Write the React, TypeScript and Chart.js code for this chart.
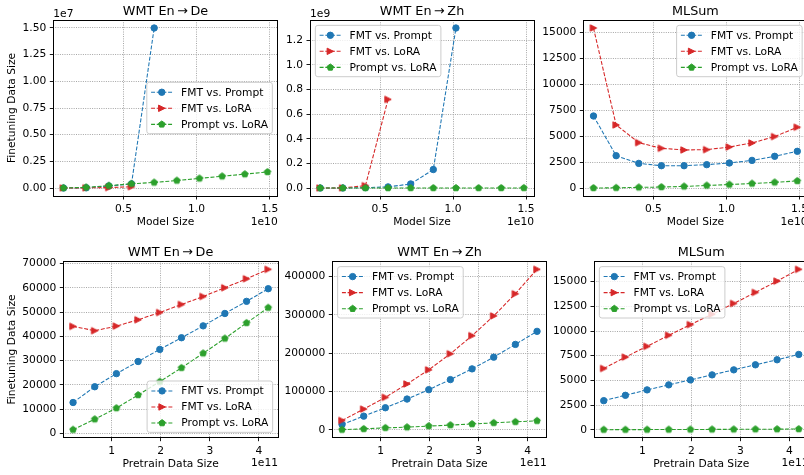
import React, { useEffect, useRef } from "react";
import { Chart, registerables } from "chart.js";

Chart.register(...registerables);

const FONT = "'DejaVu Sans', 'Liberation Sans', sans-serif";
const TICK_PX = 10.7;
const TITLE_PX = 12.8;
const COLORS = ["#1f77b4", "#d62728", "#2ca02c"];
const seriesNames = ["FMT vs. Prompt", "FMT vs. LoRA", "Prompt vs. LoRA"];

// x values
const modelSizes = [0.09e10, 0.245e10, 0.4e10, 0.555e10, 0.71e10, 0.865e10, 1.02e10, 1.175e10, 1.33e10, 1.485e10];
const pretrainSizes = [0.213e11, 0.655e11, 1.097e11, 1.539e11, 1.981e11, 2.423e11, 2.865e11, 3.307e11, 3.749e11, 4.191e11];

// Top row: vs model size
const deModelFmtPrompt = [0, 2e4, 1.9e5, 3.8e5, 1.5e7];
const deModelFmtLora = [5e3, 1.5e4, 4e4, 1.2e5];
const deModelPromptLora = [1e4, 6e4, 2.2e5, 4e5, 5.2e5, 7e5, 9e5, 1.1e6, 1.3e6, 1.5e6];

const zhModelFmtPrompt = [1e5, 4e5, 3e6, 9e6, 3.3e7, 1.5e8, 1.3e9];
const zhModelFmtLora = [2e5, 1e6, 1.9e7, 7.2e8];
const zhModelPromptLora = [1e4, 3e4, 6e4, 1e5, 1.5e5, 2e5, 3e5, 4e5, 5e5, 6e5];

const mlModelFmtPrompt = [6950, 3140, 2400, 2180, 2180, 2280, 2440, 2690, 3080, 3560];
const mlModelFmtLora = [15390, 6090, 4390, 3850, 3690, 3720, 3970, 4360, 4970, 5870];
const mlModelPromptLora = [40, 60, 100, 130, 190, 280, 370, 470, 580, 720];

// Bottom row: vs pretrain data size
const dePreFmtPrompt = [12700, 19200, 24600, 29600, 34600, 39400, 44300, 49400, 54400, 59600];
const dePreFmtLora = [44100, 42300, 44200, 46800, 49800, 53100, 56400, 60000, 63700, 67600];
const dePrePromptLora = [1500, 5800, 10400, 15800, 21300, 27000, 33000, 39100, 45500, 51800];

const zhPreFmtPrompt = [14000, 35900, 57800, 80500, 105000, 131300, 159300, 189900, 223200, 257300];
const zhPreFmtLora = [24500, 54300, 84900, 119900, 156700, 198700, 246000, 297600, 355400, 419300];
const zhPrePromptLora = [500, 2600, 5300, 7000, 10000, 12500, 15300, 18400, 21000, 23700];

const mlPreFmtPrompt = [2950, 3490, 4040, 4550, 5050, 5560, 6070, 6580, 7090, 7630];
const mlPreFmtLora = [6210, 7360, 8450, 9570, 10650, 11700, 12790, 13910, 15060, 16250];
const mlPrePromptLora = [10, 15, 20, 25, 30, 40, 45, 55, 65, 75];

// Tick values
const modelTicks = [0.5e10, 1.0e10, 1.5e10];
const pretrainTicks = [1e11, 2e11, 3e11, 4e11];
const deModelTicks = [0, 0.25e7, 0.5e7, 0.75e7, 1.0e7, 1.25e7, 1.5e7];
const zhModelTicks = [0, 0.2e9, 0.4e9, 0.6e9, 0.8e9, 1.0e9, 1.2e9];
const mlModelTicks = [0, 2500, 5000, 7500, 10000, 12500, 15000];
const dePreTicks = [0, 10000, 20000, 30000, 40000, 50000, 60000, 70000];
const zhPreTicks = [0, 100000, 200000, 300000, 400000];
const mlPreTicks = [0, 2500, 5000, 7500, 10000, 12500, 15000];

type LegendLoc = "center right" | "upper left" | "upper right" | "lower right";
interface PanelDef {
  key: string;
  title: string;
  rect: [number, number, number, number];
  xs: number[];
  series: number[][];
  xTicks: number[];
  xDiv: number;
  xDigits: number;
  xOffset: string;
  yTicks: number[];
  yDiv: number;
  yDigits: number;
  yOffset: string;
  xLabel: string;
  yLabel: string;
  legend: LegendLoc;
}

const TOP = 20, TOP_B = 196;
const BOT = 261.3, BOT_B = 437.7;
const YLABEL_X = 12.3;
const ARROW = "\u2009\u2192\u2009";

const panels: PanelDef[] = [
  {
    key: "a", title: "WMT En" + ARROW + "De", rect: [53.3, TOP, 277.7, TOP_B],
    xs: modelSizes, series: [deModelFmtPrompt, deModelFmtLora, deModelPromptLora],
    xTicks: modelTicks, xDiv: 1e10, xDigits: 1, xOffset: "1e10",
    yTicks: deModelTicks, yDiv: 1e7, yDigits: 2, yOffset: "1e7",
    xLabel: "Model Size", yLabel: "Finetuning Data Size", legend: "center right",
  },
  {
    key: "b", title: "WMT En" + ARROW + "Zh", rect: [310, TOP, 534, TOP_B],
    xs: modelSizes, series: [zhModelFmtPrompt, zhModelFmtLora, zhModelPromptLora],
    xTicks: modelTicks, xDiv: 1e10, xDigits: 1, xOffset: "1e10",
    yTicks: zhModelTicks, yDiv: 1e9, yDigits: 1, yOffset: "1e9",
    xLabel: "Model Size", yLabel: "", legend: "upper left",
  },
  {
    key: "c", title: "MLSum", rect: [583.3, TOP, 807.5, TOP_B],
    xs: modelSizes, series: [mlModelFmtPrompt, mlModelFmtLora, mlModelPromptLora],
    xTicks: modelTicks, xDiv: 1e10, xDigits: 1, xOffset: "1e10",
    yTicks: mlModelTicks, yDiv: 1, yDigits: 0, yOffset: "",
    xLabel: "Model Size", yLabel: "", legend: "upper right",
  },
  {
    key: "d", title: "WMT En" + ARROW + "De", rect: [63.3, BOT, 278, BOT_B],
    xs: pretrainSizes, series: [dePreFmtPrompt, dePreFmtLora, dePrePromptLora],
    xTicks: pretrainTicks, xDiv: 1e11, xDigits: 0, xOffset: "1e11",
    yTicks: dePreTicks, yDiv: 1, yDigits: 0, yOffset: "",
    xLabel: "Pretrain Data Size", yLabel: "Finetuning Data Size", legend: "lower right",
  },
  {
    key: "e", title: "WMT En" + ARROW + "Zh", rect: [332.3, BOT, 546.8, BOT_B],
    xs: pretrainSizes, series: [zhPreFmtPrompt, zhPreFmtLora, zhPrePromptLora],
    xTicks: pretrainTicks, xDiv: 1e11, xDigits: 0, xOffset: "1e11",
    yTicks: zhPreTicks, yDiv: 1, yDigits: 0, yOffset: "",
    xLabel: "Pretrain Data Size", yLabel: "", legend: "upper left",
  },
  {
    key: "f", title: "MLSum", rect: [594, BOT, 808.5, BOT_B],
    xs: pretrainSizes, series: [mlPreFmtPrompt, mlPreFmtLora, mlPrePromptLora],
    xTicks: pretrainTicks, xDiv: 1e11, xDigits: 0, xOffset: "1e11",
    yTicks: mlPreTicks, yDiv: 1, yDigits: 0, yOffset: "",
    xLabel: "Pretrain Data Size", yLabel: "", legend: "upper left",
  },
];

function drawMarker(ctx: CanvasRenderingContext2D, kind: number, x: number, y: number, color: string) {
  const s = 3.2;
  ctx.beginPath();
  if (kind === 0) {
    ctx.arc(x, y, s, 0, Math.PI * 2);
  } else if (kind === 1) {
    ctx.moveTo(x + s, y);
    ctx.lineTo(x - s, y - s);
    ctx.lineTo(x - s, y + s);
    ctx.closePath();
  } else {
    const r = 3.4;
    for (let i = 0; i < 5; i++) {
      const a = -Math.PI / 2 + (i * 2 * Math.PI) / 5;
      const px = x + r * Math.cos(a), py = y + r * Math.sin(a);
      if (i === 0) ctx.moveTo(px, py); else ctx.lineTo(px, py);
    }
    ctx.closePath();
  }
  ctx.setLineDash([]);
  ctx.fillStyle = color;
  ctx.fill();
  ctx.lineWidth = 1;
  ctx.strokeStyle = color;
  ctx.stroke();
}

function markerCanvas(kind: number, color: string) {
  const c = document.createElement("canvas");
  c.width = 12;
  c.height = 12;
  const g = c.getContext("2d")!;
  drawMarker(g, kind, 6, 6, color);
  return c;
}

function padRange(vals: number[]): [number, number] {
  const mn = Math.min(...vals), mx = Math.max(...vals);
  const d = (mx - mn) * 0.05;
  return [mn - d, mx + d];
}

function PanelChart({ p }: { p: PanelDef }) {
  const ref = useRef<HTMLCanvasElement>(null);
  const [axL, axT, axR, axB] = p.rect;
  const cL = Math.floor(axL) - 56;
  const cT = Math.floor(axT) - 22;
  const cR = Math.ceil(axR) + 6;
  const cB = Math.ceil(axB) + 36;
  const w = cR - cL, h = cB - cT;

  useEffect(() => {
    if (!ref.current) return;
    const markers = [null, markerCanvas(1, COLORS[1]), markerCanvas(2, COLORS[2])];
    const [xMin, xMax] = padRange(p.xs);
    const [yMin, yMax] = padRange(p.series.flat());

    const deco = {
      id: "deco",
      afterDatasetsDraw(chart: any) {
        const ctx: CanvasRenderingContext2D = chart.ctx;
        const a = chart.chartArea;
        ctx.save();
        // spines
        ctx.setLineDash([]);
        ctx.strokeStyle = "#000";
        ctx.lineWidth = 1;
        const l = Math.floor(a.left) + 0.5, t = Math.floor(a.top) + 0.5;
        const r = Math.floor(a.right) + 0.5, b = Math.floor(a.bottom) + 0.5;
        ctx.strokeRect(l, t, r - l, b - t);

        // legend
        const fs = TICK_PX;
        ctx.font = `${fs}px ${FONT}`;
        const tw = Math.max(...seriesNames.map((s) => ctx.measureText(s).width));
        const pad = 0.4 * fs, hl = 2 * fs, htp = 0.8 * fs, bap = 0.5 * fs;
        const lw = pad + hl + htp + tw + pad;
        const rowH = 1.5 * fs;
        const lh = 2 * pad + 3 * fs + 2 * 0.5 * fs;
        let lx = 0, ly = 0;
        if (p.legend === "center right") { lx = a.right - bap - lw; ly = (a.top + a.bottom) / 2 - lh / 2; }
        else if (p.legend === "upper left") { lx = a.left + bap; ly = a.top + bap; }
        else if (p.legend === "upper right") { lx = a.right - bap - lw; ly = a.top + bap; }
        else { lx = a.right - bap - lw; ly = a.bottom - bap - lh; }
        const rr = 2.5;
        ctx.beginPath();
        ctx.moveTo(lx + rr, ly);
        ctx.lineTo(lx + lw - rr, ly);
        ctx.quadraticCurveTo(lx + lw, ly, lx + lw, ly + rr);
        ctx.lineTo(lx + lw, ly + lh - rr);
        ctx.quadraticCurveTo(lx + lw, ly + lh, lx + lw - rr, ly + lh);
        ctx.lineTo(lx + rr, ly + lh);
        ctx.quadraticCurveTo(lx, ly + lh, lx, ly + lh - rr);
        ctx.lineTo(lx, ly + rr);
        ctx.quadraticCurveTo(lx, ly, lx + rr, ly);
        ctx.closePath();
        ctx.fillStyle = "rgba(255,255,255,0.8)";
        ctx.fill();
        ctx.strokeStyle = "#cccccc";
        ctx.lineWidth = 1;
        ctx.stroke();
        for (let k = 0; k < 3; k++) {
          const cy = ly + pad + fs / 2 + k * rowH + 0.3;
          const x0 = lx + pad, x1 = lx + pad + hl;
          ctx.beginPath();
          ctx.setLineDash([3.96, 1.71]);
          ctx.strokeStyle = COLORS[k];
          ctx.lineWidth = 1.07;
          ctx.moveTo(x0, cy);
          ctx.lineTo(x1, cy);
          ctx.stroke();
          drawMarker(ctx, k, (x0 + x1) / 2, cy, COLORS[k]);
          ctx.fillStyle = "#000";
          ctx.textAlign = "left";
          ctx.textBaseline = "middle";
          ctx.fillText(seriesNames[k], x1 + htp, cy + 0.5);
        }
        ctx.restore();
      },
      afterDraw(chart: any) {
        const ctx: CanvasRenderingContext2D = chart.ctx;
        const a = chart.chartArea;
        ctx.save();
        ctx.fillStyle = "#000";
        ctx.textBaseline = "alphabetic";
        ctx.font = `${TITLE_PX}px ${FONT}`;
        ctx.textAlign = "center";
        ctx.fillText(p.title, (a.left + a.right) / 2, a.top - 5);
        ctx.font = `${TICK_PX}px ${FONT}`;
        if (p.yOffset) {
          ctx.textAlign = "left";
          ctx.fillText(p.yOffset, a.left, a.top - 3.3);
        }
        ctx.textAlign = "right";
        ctx.fillText(p.xOffset, a.right, a.bottom + 28.5);
        ctx.textAlign = "center";
        ctx.fillText(p.xLabel, (a.left + a.right) / 2, a.bottom + 29);
        if (p.yLabel) {
          ctx.translate(YLABEL_X - cL, (a.top + a.bottom) / 2);
          ctx.rotate(-Math.PI / 2);
          ctx.textAlign = "center";
          ctx.textBaseline = "middle";
          ctx.fillText(p.yLabel, 0, 0);
        }
        ctx.restore();
      },
    };

    const gridCommon = {
      color: "#a6a6a6",
      lineWidth: 1,
      drawTicks: true,
      tickLength: 3.5,
      tickColor: "#000",
      tickWidth: 0.9,
    };

    const chart = new Chart(ref.current, {
      type: "line",
      data: {
        datasets: p.series.map((ys, k) => ({
          label: seriesNames[k],
          data: ys.map((y, i) => ({ x: p.xs[i], y })),
          borderColor: COLORS[k],
          backgroundColor: COLORS[k],
          borderWidth: 1.07,
          borderDash: [3.96, 1.71],
          pointStyle: k === 0 ? "circle" : (markers[k] as any),
          pointRadius: 3.2,
          pointHoverRadius: 3.2,
          pointBorderWidth: 1,
          pointBackgroundColor: COLORS[k],
          pointBorderColor: COLORS[k],
          tension: 0,
          fill: false,
          order: 3 - k,
        })),
      },
      options: {
        responsive: false,
        animation: false,
        events: [],
        layout: { padding: { left: 0, top: axT - cT, right: cR - axR, bottom: 0 } },
        plugins: {
          legend: { display: false },
          title: { display: false },
          tooltip: { enabled: false },
        },
        scales: {
          x: {
            type: "linear",
            position: "bottom",
            min: xMin,
            max: xMax,
            afterBuildTicks: (s: any) => { s.ticks = p.xTicks.map((v) => ({ value: v })); },
            afterFit: (s: any) => { s.height = cB - axB; s.paddingLeft = 0; s.paddingRight = 0; },
            grid: gridCommon,
            border: { display: false, dash: [1, 1.3] },
            ticks: {
              autoSkip: false,
              maxRotation: 0,
              padding: 3.5,
              color: "#000",
              font: { family: FONT, size: TICK_PX },
              callback: (v: any) => (Number(v) / p.xDiv).toFixed(p.xDigits),
            },
          },
          y: {
            type: "linear",
            position: "left",
            min: yMin,
            max: yMax,
            afterBuildTicks: (s: any) => { s.ticks = p.yTicks.map((v) => ({ value: v })); },
            afterFit: (s: any) => { s.width = axL - cL; s.paddingTop = 0; s.paddingBottom = 0; },
            grid: gridCommon,
            border: { display: false, dash: [1, 1.3] },
            ticks: {
              autoSkip: false,
              padding: 3.5,
              color: "#000",
              font: { family: FONT, size: TICK_PX },
              callback: (v: any) => (Number(v) / p.yDiv).toFixed(p.yDigits),
            },
          },
        },
      } as any,
      plugins: [deco as any],
    });
    return () => chart.destroy();
  }, []);

  return (
    <canvas
      ref={ref}
      width={w}
      height={h}
      style={{ position: "absolute", left: cL, top: cT, width: w, height: h }}
    />
  );
}

export default function App() {
  return (
    <div
      style={{
        position: "absolute",
        left: 0,
        top: 0,
        width: 804,
        height: 475,
        overflow: "hidden",
        background: "#fff",
      }}
    >
      {panels.map((p) => (
        <PanelChart key={p.key} p={p} />
      ))}
    </div>
  );
}
